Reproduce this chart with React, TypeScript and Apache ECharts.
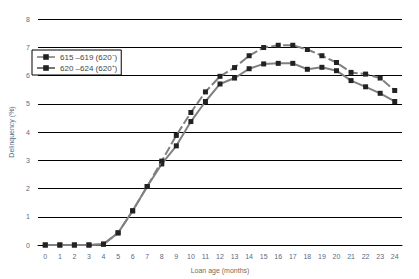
import React, { useEffect, useRef } from "react";
import * as echarts from "echarts";

const months = ["0","1","2","3","4","5","6","7","8","9","10","11","12","13","14","15","16","17","18","19","20","21","22","23","24"];
const seriesLow = [0, 0, 0, 0, 0.03, 0.43, 1.21, 2.07, 2.97, 3.88, 4.69, 5.42, 5.97, 6.28, 6.7, 6.99, 7.07, 7.07, 6.92, 6.7, 6.46, 6.11, 6.05, 5.91, 5.47];
const seriesHigh = [0, 0, 0, 0, 0.03, 0.43, 1.21, 2.07, 2.87, 3.51, 4.37, 5.08, 5.7, 5.91, 6.24, 6.41, 6.43, 6.43, 6.22, 6.29, 6.17, 5.82, 5.6, 5.37, 5.08];
const nameLow = "615 –619 (620⁻)";
const nameHigh = "620 –624 (620⁺)";
const yTicks = [0, 8, 1];

export default function App() {
  const ref = useRef<HTMLDivElement>(null);
  useEffect(() => {
    if (!ref.current) return;
    const chart = echarts.init(ref.current, null, { renderer: "svg" });
    const font = "Liberation Sans, Arial, sans-serif";
    chart.setOption({
      animation: false,
      backgroundColor: "#fff",
      grid: { left: 33, right: 17, top: 19, bottom: 30, containLabel: false },
      legend: {
        orient: "vertical",
        left: 32,
        top: 50,
        width: 85,
        padding: [3, 4, 3, 4],
        itemGap: 3,
        itemWidth: 18,
        itemHeight: 7,
        borderColor: "#000",
        borderWidth: 1,
        backgroundColor: "#fff",
        textStyle: { fontSize: 8, color: "#444", fontFamily: font },
        data: [
          { name: nameLow, itemStyle: { color: "#222" }, lineStyle: { type: "solid", color: "#999" } },
          { name: nameHigh, itemStyle: { color: "#222" }, lineStyle: { type: "solid", color: "#777" } },
        ],
      },
      xAxis: {
        type: "category",
        data: months,
        boundaryGap: true,
        name: "Loan age (months)",
        nameLocation: "middle",
        nameGap: 22,
        nameTextStyle: { fontSize: 7, color: "#7a6a5a", fontFamily: font },
        axisLine: { lineStyle: { color: "#000", width: 1 } },
        axisTick: { inside: false, length: 3, lineStyle: { color: "#000" } },
        axisLabel: { fontSize: 7, color: "#5a6a85", margin: 8, fontFamily: font, interval: 0 },
        splitLine: { show: false },
      },
      yAxis: {
        type: "value",
        min: yTicks[0],
        max: yTicks[1],
        interval: yTicks[2],
        name: "Delinquency (%)",
        nameLocation: "middle",
        nameGap: 23,
        nameTextStyle: { fontSize: 7, color: "#5a6a85", fontFamily: font },
        axisLine: { show: false },
        axisTick: { show: false },
        axisLabel: { fontSize: 7, color: "#5a6a85", margin: 8, fontFamily: font },
        splitLine: { lineStyle: { color: "#000", width: 1 } },
      },
      series: [
        {
          name: nameLow,
          type: "line",
          data: seriesLow,
          symbol: "rect",
          symbolSize: 5,
          itemStyle: { color: "#222" },
          lineStyle: { color: "#808080", width: 2, type: [9, 3] },
          z: 3,
        },
        {
          name: nameHigh,
          type: "line",
          data: seriesHigh,
          symbol: "rect",
          symbolSize: 5,
          itemStyle: { color: "#222" },
          lineStyle: { color: "#808080", width: 2, type: "solid" },
          z: 2,
        },
      ],
    });
    return () => chart.dispose();
  }, []);
  return <div ref={ref} style={{ position: "fixed", left: 0, top: 0, width: 419, height: 279 }} />;
}
